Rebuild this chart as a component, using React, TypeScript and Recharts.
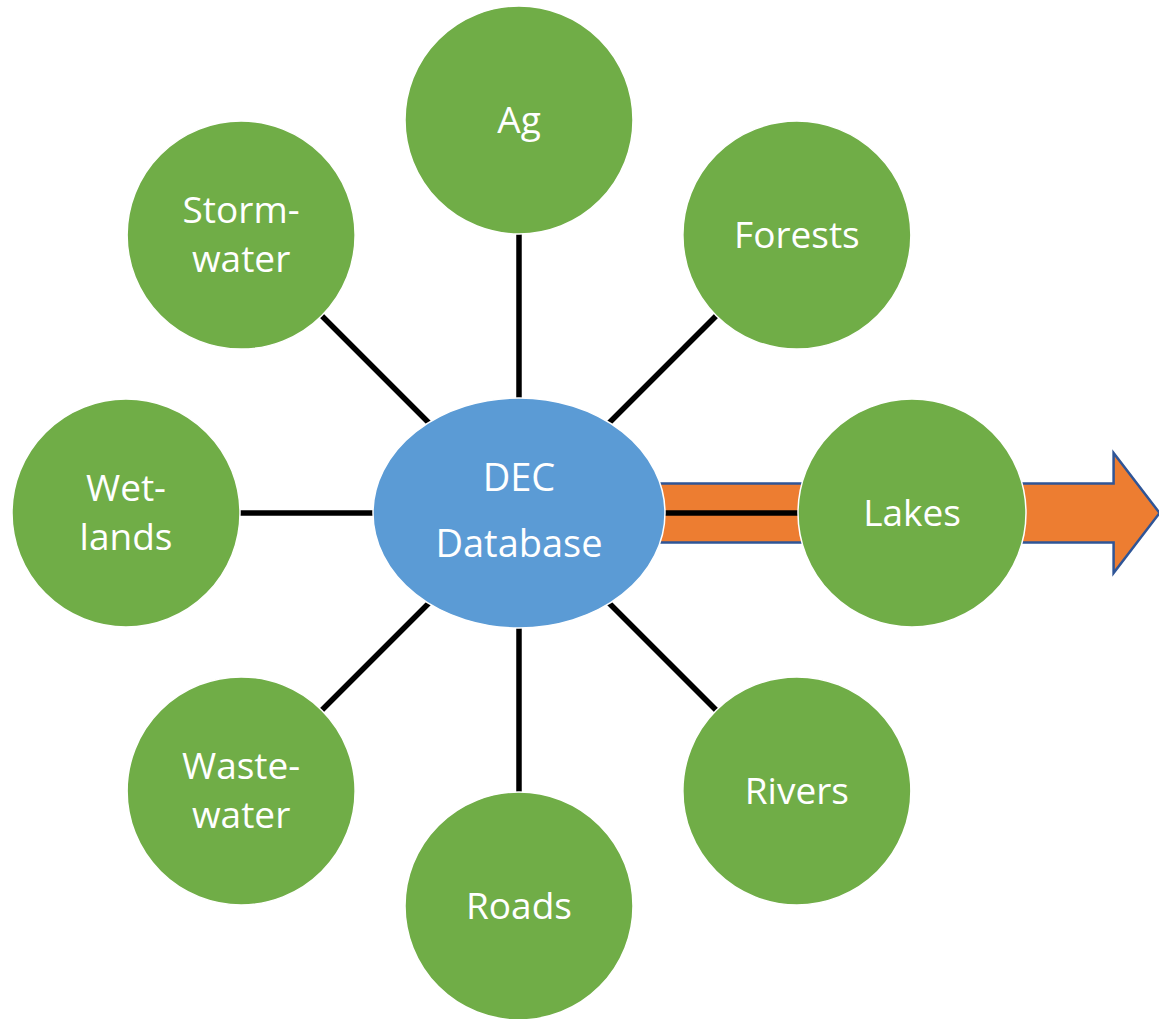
import React from 'react'
import { ScatterChart, Scatter, XAxis, YAxis, ReferenceLine, ReferenceArea } from 'recharts'

// hub and spoke diagram: DEC Database in the middle, 8 sources around it
const nodeLabels: string[][] = [
  ['Ag'],
  ['Forests'],
  ['Lakes'],
  ['Rivers'],
  ['Roads'],
  ['Waste-', 'water'],
  ['Wet-', 'lands'],
  ['Storm-', 'water'],
]
// angle of each node around the hub, degrees (0 = right, 90 = up)
const nodeAngles = [90, 45, 0, -45, -90, -135, 180, 135]
const hubLabel = ['DEC', 'Database']
// orange arrow leaving the hub to the right, in spoke-radius units
const arrowFrom = 0
const arrowTo = 1.63
const arrowHalfHeight = 0.153

const GREEN = '#70AD47'
const BLUE = '#5B9BD5'
const ORANGE = '#ED7D31'
const FONT = '"Open Sans", sans-serif'

type Node = { x: number, y: number, lines: string[] }

const nodes: Node[] = nodeLabels.map((lines, i) => {
  const a = (nodeAngles[i] * Math.PI) / 180
  return { x: Math.cos(a), y: Math.sin(a), lines }
})
const hub: Node[] = [{ x: 0, y: 0, lines: hubLabel }]

const NodeShape = (props: any) => {
  const { cx, cy, payload } = props
  const lines: string[] = payload.lines
  const ys = lines.length === 1 ? [cy + 13] : [cy - 12, cy + 37]
  return (
    <g>
      <circle cx={cx} cy={cy} r={114} fill={GREEN} stroke="#fff" strokeWidth={1.5} />
      {lines.map((t, i) => (
        <text key={i} x={cx} y={ys[i]} textAnchor="middle" fill="#fff" fontSize={37} fontFamily={FONT}>{t}</text>
      ))}
    </g>
  )
}

const HubShape = (props: any) => {
  const { cx, cy, payload } = props
  const ys = [cy - 22, cy + 44]
  return (
    <g>
      <ellipse cx={cx} cy={cy} rx={146} ry={115} fill={BLUE} stroke="#fff" strokeWidth={1.5} />
      {payload.lines.map((t: string, i: number) => (
        <text key={i} x={cx} y={ys[i]} textAnchor="middle" fill="#fff" fontSize={38} fontFamily={FONT}>{t}</text>
      ))}
    </g>
  )
}

const ArrowShape = (props: any) => {
  const { x, y, width, height } = props
  const headLen = 46
  const midY = y + height / 2
  const bodyHalf = height * 0.245
  const bx = x + width - headLen
  const d = `M${x},${midY - bodyHalf} L${bx},${midY - bodyHalf} L${bx},${y} L${x + width},${midY} L${bx},${y + height} L${bx},${midY + bodyHalf} L${x},${midY + bodyHalf} Z`
  return <path d={d} fill={ORANGE} stroke="#2F5597" strokeWidth={2.5} />
}

export default function App() {
  return (
    <div style={{ position: 'absolute', left: 0, top: 0 }}>
      <ScatterChart width={1159} height={1019} margin={{ top: 0, right: 0, bottom: 0, left: 0 }}>
        <XAxis type="number" dataKey="x" domain={[-1.3206, 1.6285]} allowDataOverflow hide />
        <YAxis type="number" dataKey="y" domain={[-1.2875, 1.3053]} allowDataOverflow hide />
        <ReferenceArea x1={arrowFrom} x2={arrowTo} y1={-arrowHalfHeight} y2={arrowHalfHeight}
          ifOverflow="visible" shape={ArrowShape} />
        {nodes.map((n, i) => (
          <ReferenceLine key={i} segment={[{ x: 0, y: 0 }, { x: n.x, y: n.y }]}
            stroke="#000" strokeWidth={5.5} ifOverflow="visible" />
        ))}
        <Scatter data={hub} shape={HubShape} isAnimationActive={false} />
        <Scatter data={nodes} shape={NodeShape} isAnimationActive={false} />
      </ScatterChart>
    </div>
  )
}
